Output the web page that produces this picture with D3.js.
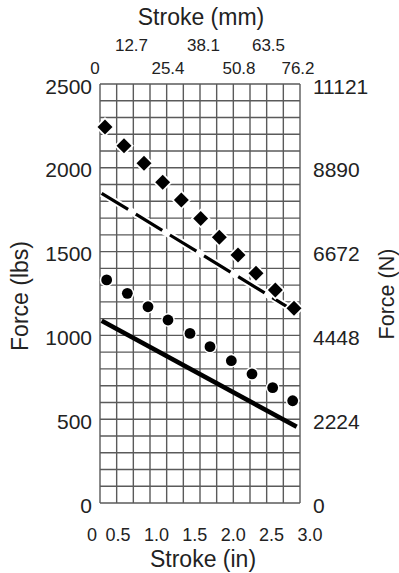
<!DOCTYPE html>
<html>
<head>
<meta charset="utf-8">
<script src="https://cdn.jsdelivr.net/npm/d3@7"></script>
<style>
  html, body { margin: 0; padding: 0; background: #fff; }
  svg { display: block; font-family: "Liberation Sans", Arial, Helvetica, sans-serif; }
</style>
</head>
<body>
<svg id="chart" width="399" height="573"></svg>
<script>
// ---- data ----
const strokeInTicks = [0, 0.5, 1.0, 1.5, 2.0, 2.5, 3.0];
const strokeMmTicks = [0, 12.7, 25.4, 38.1, 50.8, 63.5, 76.2];
const forceLbsTicks = [0, 500, 1000, 1500, 2000, 2500];
const forceNLabels  = ["0", "2224", "4448", "6672", "8890", "11121"];

// diamond series (stroke in, force lbs)
const diamondX = [0.075, 0.36, 0.66, 0.94, 1.22, 1.51, 1.79, 2.07, 2.34, 2.63, 2.91];
const diamondY = [2243, 2132, 2027, 1914, 1808, 1698, 1585, 1480, 1371, 1271, 1162];
// circle series
const circleX = [0.10, 0.41, 0.72, 1.02, 1.35, 1.65, 1.97, 2.28, 2.59, 2.89];
const circleY = [1331, 1251, 1171, 1092, 1012, 933, 849, 770, 688, 610];
// dashed line series
const dashedX = [0.025, 2.97];
const dashedY = [1848, 1132];
// solid line series
const solidX = [0.025, 2.95];
const solidY = [1088, 455];

// ---- layout ----
const svg = d3.select("#chart");
const x = d3.scaleLinear().domain([0, 3]).range([100, 300]);
const y = d3.scaleLinear().domain([0, 2500]).range([503, 84]);
// label placement scales (labels in the original are not evenly spaced)
const xBottomLabel = d3.scaleLinear().domain([0, 0.5, 3]).range([92, 118, 310]);
const xTopLabel = d3.scaleLinear().domain([0, 25.4, 50.8, 76.2]).range([95, 168, 239, 298]);

const textColor = "#222";
const gridColor = "#5a5a5a";

// ---- grid ----
const g = svg.append("g");
g.selectAll("line.v").data(d3.range(0, 3.0001, 0.25)).join("line")
  .attr("x1", d => x(d)).attr("x2", d => x(d))
  .attr("y1", y(0)).attr("y2", y(2500))
  .attr("stroke", gridColor).attr("stroke-width", 1.4);
g.selectAll("line.h").data(d3.range(0, 2500.1, 100)).join("line")
  .attr("x1", x(0)).attr("x2", x(3))
  .attr("y1", d => y(d)).attr("y2", d => y(d))
  .attr("stroke", gridColor).attr("stroke-width", 1.4);

// ---- lines ----
const line = d3.line().x(d => x(d[0])).y(d => y(d[1]));
const dashedPts = dashedX.map((v, i) => [v, dashedY[i]]);
const solidPts = solidX.map((v, i) => [v, solidY[i]]);

svg.append("path").attr("d", line(dashedPts))
  .attr("fill", "none").attr("stroke", "#fff").attr("stroke-width", 7);
svg.append("path").attr("d", line(dashedPts))
  .attr("fill", "none").attr("stroke", "#000").attr("stroke-width", 3.2)
  .attr("stroke-dasharray", "31,9");

svg.append("path").attr("d", line(solidPts))
  .attr("fill", "none").attr("stroke", "#000").attr("stroke-width", 4.6);

// ---- markers ----
const diamonds = diamondX.map((v, i) => [v, diamondY[i]]);
const circles = circleX.map((v, i) => [v, circleY[i]]);
const sq = d3.symbol().type(d3.symbolSquare).size(112);

svg.append("g").selectAll("path").data(diamonds).join("path")
  .attr("d", sq)
  .attr("transform", d => `translate(${x(d[0])},${y(d[1])}) rotate(45)`)
  .attr("fill", "#000").attr("stroke", "#fff").attr("stroke-width", 3.5)
  .attr("paint-order", "stroke");

svg.append("g").selectAll("circle").data(circles).join("circle")
  .attr("cx", d => x(d[0])).attr("cy", d => y(d[1])).attr("r", 5.4)
  .attr("fill", "#000").attr("stroke", "#fff").attr("stroke-width", 3)
  .attr("paint-order", "stroke");

// ---- axes text ----
// left
svg.append("g").selectAll("text").data(forceLbsTicks).join("text")
  .attr("x", 92).attr("y", d => y(d) + 2).attr("dy", "0.36em")
  .attr("text-anchor", "end").attr("font-size", 21).attr("fill", textColor)
  .text(d => d);
// right
svg.append("g").selectAll("text").data(forceLbsTicks).join("text")
  .attr("x", 313).attr("y", d => y(d) + 2).attr("dy", "0.36em")
  .attr("text-anchor", "start").attr("font-size", 21).attr("fill", textColor)
  .text((d, i) => forceNLabels[i]);
// bottom
svg.append("g").selectAll("text").data(strokeInTicks).join("text")
  .attr("x", d => xBottomLabel(d)).attr("y", 541)
  .attr("text-anchor", "middle").attr("font-size", 18).attr("fill", textColor)
  .text(d => d === 0 ? "0" : d.toFixed(1));
// top (staggered)
svg.append("g").selectAll("text").data(strokeMmTicks).join("text")
  .attr("x", d => xTopLabel(d)).attr("y", (d, i) => i % 2 === 0 ? 74 : 50.5)
  .attr("text-anchor", "middle").attr("font-size", 17).attr("fill", textColor)
  .text(d => d === 0 ? "0" : d.toFixed(1));

// titles
svg.append("text").attr("x", 201).attr("y", 25).attr("text-anchor", "middle")
  .attr("font-size", 23).attr("fill", textColor).text("Stroke (mm)");
svg.append("text").attr("x", 203).attr("y", 567).attr("text-anchor", "middle")
  .attr("font-size", 23).attr("fill", textColor).text("Stroke (in)");
svg.append("text").attr("transform", "translate(28,296) rotate(-90)")
  .attr("text-anchor", "middle").attr("font-size", 23).attr("fill", textColor)
  .text("Force (lbs)");
svg.append("text").attr("transform", "translate(394,294) rotate(-90)")
  .attr("text-anchor", "middle").attr("font-size", 21.5).attr("fill", textColor)
  .text("Force (N)");
</script>
</body>
</html>
